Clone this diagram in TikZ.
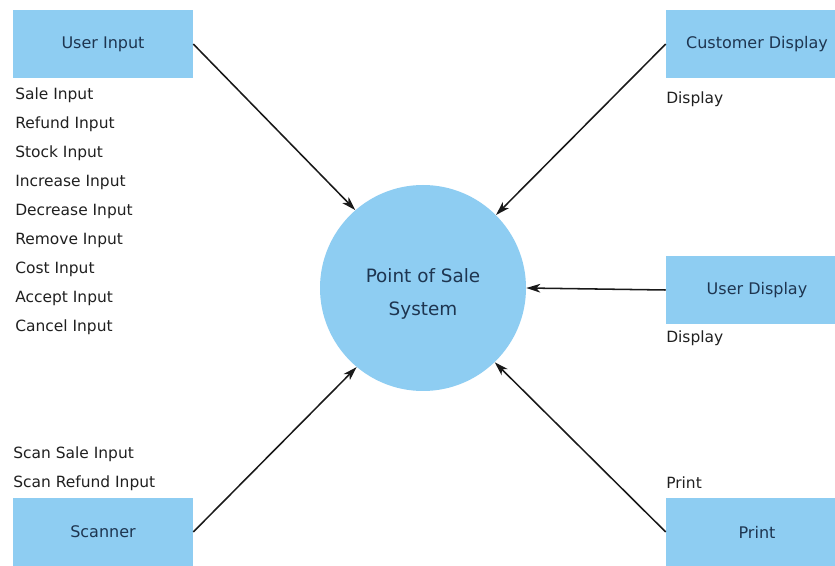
\documentclass[tikz,border=0pt]{standalone}
\usepackage{fontspec}
\setmainfont{DejaVu Sans}
\usetikzlibrary{arrows.meta}
\definecolor{boxblue}{HTML}{8ECDF2}
\definecolor{boxtext}{HTML}{1E3550}
\definecolor{sidetext}{HTML}{202020}
\tikzset{
  box/.style={fill=boxblue, draw=none, minimum width=135pt, minimum height=51pt, inner sep=0pt,
    text=boxtext, font=\fontsize{12}{14}\selectfont},
  rbox/.style={box, minimum width=136.5pt},
  proc/.style={circle, fill=boxblue, draw=none, minimum size=154.5pt, inner sep=0pt},
  proctext/.style={text=boxtext, align=center, inner sep=0pt, font=\fontsize{13.8}{24.75}\selectfont},
  side/.style={anchor=west, inner sep=0pt, text=sidetext, font=\fontsize{11.6}{13}\selectfont},
  arr/.style={draw=black!90, line width=1.15pt, -{Stealth[length=10.5pt,width=6.5pt,inset=3pt]}}
}
\begin{document}
\begin{tikzpicture}[x=0.75pt, y=-0.75pt]
\useasboundingbox (0,0) rectangle (835,566);
\clip (0,0) rectangle (835,566);
\fill[white] (0,0) rectangle (835,566);

\node[proc] (pos) at (423,288) {};
\node[proctext] (post) at (423,294) {Point of Sale\\System};

\node[box] (ui) at (103,44) {User Input};
\node[rbox] (cd) at (757,44) {Customer Display};
\node[rbox] (ud) at (757,290) {User Display};
\node[box] (sc) at (103,532) {Scanner};
\node[rbox] (pr) at (757,532) {Print};

\node[side] (l1) at (15,95) {Sale Input};
\node[side] (l2) at (15,124) {Refund Input};
\node[side] (l3) at (15,153) {Stock Input};
\node[side] (l4) at (15,182) {Increase Input};
\node[side] (l5) at (15,211) {Decrease Input};
\node[side] (l6) at (15,240) {Remove Input};
\node[side] (l7) at (15,269) {Cost Input};
\node[side] (l8) at (15,298) {Accept Input};
\node[side] (l9) at (15,327) {Cancel Input};

\node[side] (d1) at (666,99) {Display};
\node[side] (d2) at (666,338) {Display};

\node[side] (s1) at (13,454) {Scan Sale Input};
\node[side] (s2) at (13,483) {Scan Refund Input};
\node[side] (p1) at (666,483) {Print};

\draw[arr] (ui.east) -- (pos.131);
\draw[arr] (cd.west) -- (pos.45);
\draw[arr] (ud.west) -- (pos.0);
\draw[arr] (sc.east) -- (pos.230);
\draw[arr] (pr.west) -- (pos.314);
\end{tikzpicture}
\end{document}
